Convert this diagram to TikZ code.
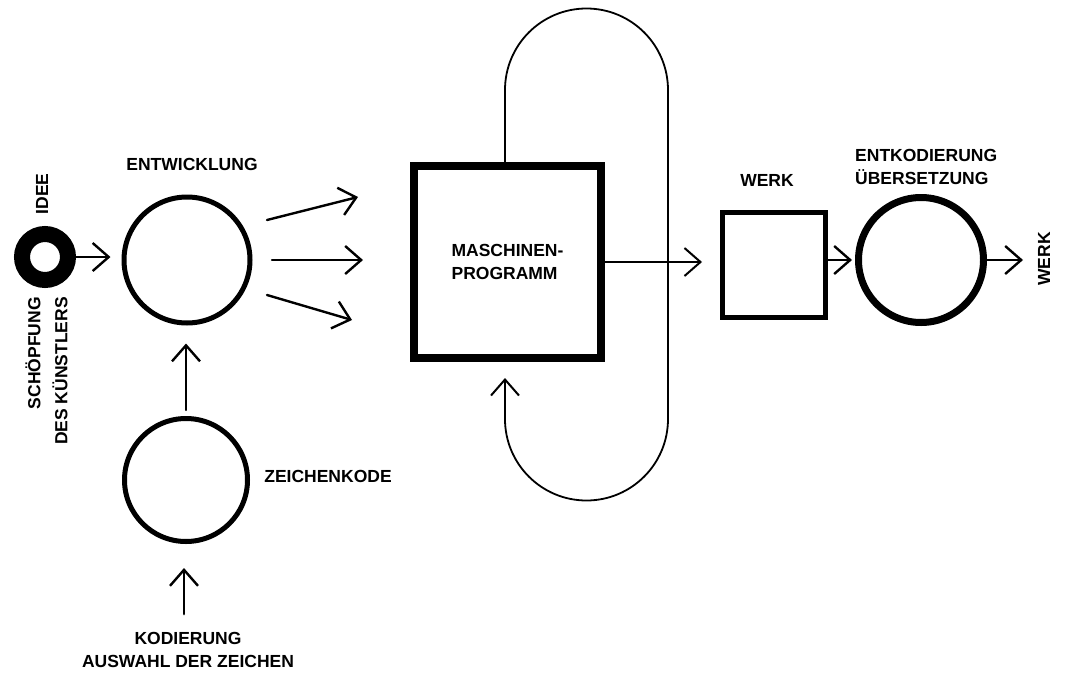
\documentclass[tikz,border=0pt]{standalone}
\usepackage{fontspec}
\setmainfont{Liberation Sans}
\usetikzlibrary{arrows.meta}
\begin{document}
\begin{tikzpicture}[x=1pt,y=-1pt,
  lbl/.style={font=\fontsize{17.5}{23}\selectfont\bfseries, inner sep=0pt},
  ring/.style={circle, draw, line width=#1, inner sep=0pt},
  arr/.style={line width=2.4pt, line cap=round, -{Straight Barb[length=16pt,width=28pt,line width=2.4pt]}},
  tarr/.style={line width=1.8pt, -{Straight Barb[length=16pt,width=28pt,line width=2pt]}},
  thinline/.style={line width=1.8pt}]
\useasboundingbox (0,0) rectangle (1069,691);

% Idee
\node[circle, draw, line width=16pt, minimum size=46pt, inner sep=0pt] (idee) at (45,257) {};
\node[lbl, rotate=90] (ideelbl) at (42,194) {IDEE};
\node[lbl, rotate=90, align=right, anchor=east] (schoepf) at (46.5,297) {SCHÖPFUNG\\[4pt]DES KÜNSTLERS};

% Entwicklung
\node[ring=5pt, minimum size=126pt] (ent) at (187,260) {};
\node[lbl] (entlbl) at (192,164) {ENTWICKLUNG};
\draw[arr, shorten >=11pt] (idee.east) -- (idee.east -| ent.west);

% Zeichenkode
\node[ring=5pt, minimum size=123pt] (zk) at (186,480) {};
\node[lbl] (zklbl) at (328,476) {ZEICHENKODE};
\draw[arr, shorten <=6pt, shorten >=18pt] (zk.north) -- (zk.north |- ent.south);
\node[lbl, align=center] (kod) at (188,650) {KODIERUNG\\AUSWAHL DER ZEICHEN};
\draw[arr, shorten <=18pt, shorten >=24pt] (kod.north -| 184,0) -- (zk.south -| 184,0);

% three arrows
\coordinate (t1s) at (267,220); \coordinate (t1e) at (358,197);
\coordinate (t2s) at (272,260); \coordinate (t2e) at (363,260);
\coordinate (t3s) at (267,295); \coordinate (t3e) at (352,320);
\draw[arr] (t1s) -- (t1e);
\draw[arr] (t2s) -- (t2e);
\draw[arr] (t3s) -- (t3e);

% Maschinenprogramm + loop
\draw[thinline] (505,170) -- (505,90) arc[start angle=180,end angle=0,radius=81.5pt]
  -- (668,419) arc[start angle=0,end angle=-180,radius=81.5pt] -- (505,400);
\node[draw, line width=8pt, minimum width=187pt, minimum height=192pt, lbl, align=left, fill=white] (mp) at (507.5,262) {MASCHINEN-\\PROGRAMM};
\draw[tarr] (505,400) -- ([xshift=-2.5pt, yshift=-16pt]mp.south);
\coordinate (mpout) at (702,262);
\draw[tarr] (mp.east) -- (mpout);

% Werk
\node[draw, line width=5pt, minimum width=103pt, minimum height=105pt, inner sep=0pt] (werk) at (774,265) {};
\node[lbl] (werklbl) at (767,180) {WERK};

% Entkodierung
\node[ring=7pt, minimum size=125pt] (entk) at (921,260) {};
\node[lbl, align=left, anchor=west] (entklbl) at (855,167) {ENTKODIERUNG\\ÜBERSETZUNG};
\draw[arr, shorten >=3pt] (werk.east |- entk.west) -- (entk.west);
\coordinate (fin) at (1023,260);
\draw[arr] (entk.east) -- (fin);
\node[lbl, rotate=90] (werk2) at (1044,259) {WERK};
\end{tikzpicture}
\end{document}
